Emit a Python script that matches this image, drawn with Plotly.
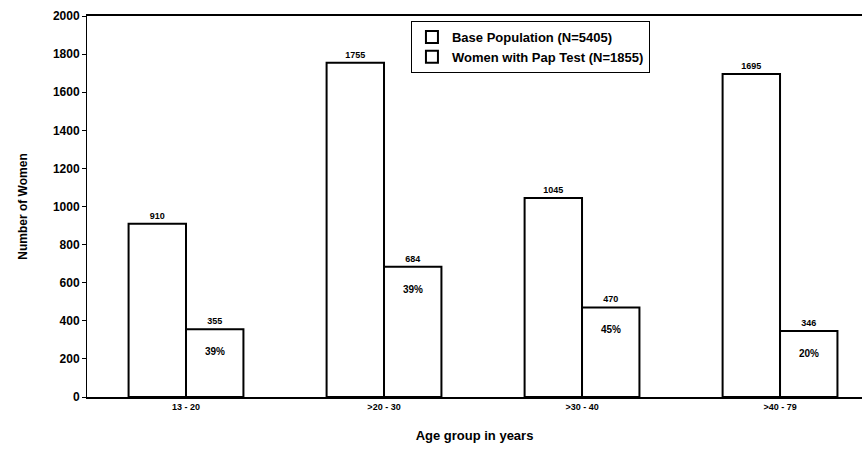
import plotly.graph_objects as go

age_groups = ["13 - 20", ">20 - 30", ">30 - 40", ">40 - 79"]
base_population = [910, 1755, 1045, 1695]
pap_test = [355, 684, 470, 346]
pap_share = ["39%", "39%", "45%", "20%"]

bar_w = 0.29
xs = list(range(len(age_groups)))
font_family = "Arial, Liberation Sans, sans-serif"

fig = go.Figure()
fig.add_trace(go.Bar(
    x=xs, y=base_population, name="Base Population (N=5405)",
    width=bar_w, offset=-bar_w,
    marker=dict(color="white", line=dict(color="black", width=2)),
    text=[str(v) for v in base_population], textposition="outside",
    textfont=dict(size=9, color="black", family=font_family, weight="bold"),
    cliponaxis=False,
))
fig.add_trace(go.Bar(
    x=xs, y=pap_test, name="Women with Pap Test (N=1855)",
    width=bar_w, offset=0,
    marker=dict(color="white", line=dict(color="black", width=2)),
    text=[str(v) for v in pap_test], textposition="outside",
    textfont=dict(size=9, color="black", family=font_family, weight="bold"),
    cliponaxis=False,
))

# Share of each age group with a Pap test, written inside the Pap bars
for i, (v, s) in enumerate(zip(pap_test, pap_share)):
    fig.add_annotation(
        x=i + bar_w / 2, y=v, text=s, showarrow=False,
        yanchor="top", yshift=-15,
        font=dict(size=10, color="black", family=font_family, weight="bold"),
    )

fig.update_layout(
    width=868, height=454,
    margin=dict(l=87, r=6, t=16, b=57),
    paper_bgcolor="white", plot_bgcolor="white",
    font=dict(family=font_family, color="black"),
    showlegend=True,
    legend=dict(
        x=0.418, y=0.987, xanchor="left", yanchor="top",
        bgcolor="white", bordercolor="black", borderwidth=1,
        font=dict(size=13, family=font_family, color="black", weight="bold"),
        tracegroupgap=0, itemwidth=30,
    ),
)
fig.update_xaxes(
    range=[-0.5, 3.414], tickvals=xs, ticktext=age_groups,
    tickfont=dict(size=9, family=font_family, weight="bold"),
    showline=True, linecolor="black", linewidth=2, mirror=True,
    showgrid=False, zeroline=False, ticks="",
    title=dict(text="Age group in years", standoff=20,
               font=dict(size=13, family=font_family, weight="bold")),
)
fig.update_yaxes(
    range=[0, 2000], dtick=200,
    tickfont=dict(size=12, family=font_family, weight="bold"),
    showline=True, linecolor="black", linewidth=1,
    showgrid=False, zeroline=False,
    ticks="outside", ticklen=4, tickcolor="black",
    title=dict(text="Number of Women", standoff=22,
               font=dict(size=12, family=font_family, weight="bold")),
)

fig.write_html("out.html")
